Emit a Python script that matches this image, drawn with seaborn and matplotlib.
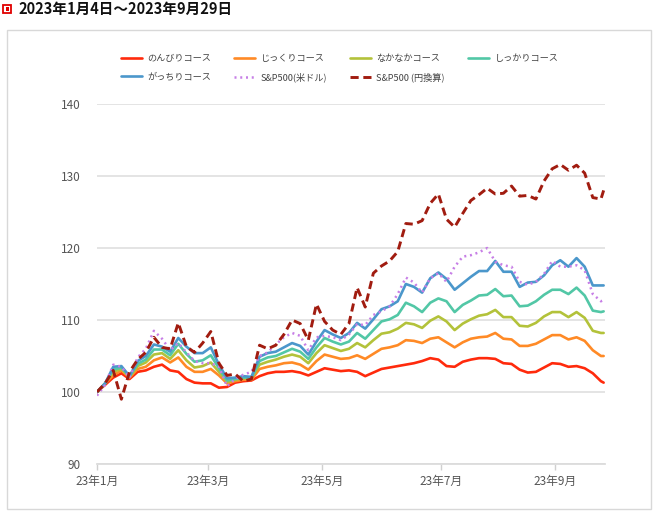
import matplotlib
matplotlib.use("Agg")
import matplotlib.pyplot as plt
import matplotlib.patches as patches
import seaborn as sns
import pandas as pd

# trading-day index (every 3rd day from 2023-01-04 to 2023-09-29)
day = list(range(0, 187, 3)) + [187]

nonbiri = [100.0, 101.0, 102.0, 102.6, 101.8, 102.8, 103.0, 103.5, 103.8, 103.0,
           102.8, 101.8, 101.3, 101.2, 101.2, 100.6, 100.7, 101.3, 101.5, 101.6,
           102.2, 102.6, 102.8, 102.8, 102.9, 102.7, 102.3, 102.8, 103.3, 103.1,
           102.9, 103.0, 102.8, 102.2, 102.7, 103.2, 103.4, 103.6, 103.8, 104.0,
           104.3, 104.7, 104.5, 103.6, 103.5, 104.2, 104.5, 104.7, 104.7, 104.6,
           104.0, 103.9, 103.1, 102.7, 102.8, 103.4, 104.0, 103.9, 103.5, 103.6,
           103.3, 102.6, 101.5, 101.3]
jikkuri = [100.0, 101.2, 102.3, 103.0, 102.0, 103.2, 103.5, 104.4, 104.8, 104.1,
           104.8, 103.5, 102.8, 102.8, 103.2, 102.3, 101.2, 101.5, 101.7, 101.7,
           103.2, 103.5, 103.7, 104.0, 104.1, 103.8, 103.1, 104.3, 105.2, 104.9,
           104.6, 104.7, 105.1, 104.6, 105.3, 106.0, 106.2, 106.5, 107.2, 107.1,
           106.8, 107.4, 107.6, 106.9, 106.2, 106.9, 107.4, 107.6, 107.7, 108.2,
           107.4, 107.3, 106.4, 106.4, 106.7, 107.3, 107.9, 107.9, 107.3, 107.6,
           107.1, 105.8, 105.0, 105.0]
nakanaka = [100.0, 101.2, 102.8, 103.2, 102.1, 103.6, 104.1, 105.2, 105.4, 104.6,
            105.8, 104.4, 103.4, 103.6, 104.1, 102.8, 101.4, 101.7, 101.9, 101.9,
            103.8, 104.2, 104.5, 104.9, 105.2, 104.9, 104.0, 105.4, 106.5, 106.1,
            105.7, 106.0, 106.8, 106.2, 107.2, 108.1, 108.3, 108.8, 109.6, 109.4,
            108.9, 109.9, 110.5, 109.8, 108.6, 109.5, 110.1, 110.6, 110.8, 111.4,
            110.4, 110.4, 109.2, 109.1, 109.6, 110.5, 111.1, 111.1, 110.4, 111.1,
            110.3, 108.5, 108.2, 108.2]
shikkari = [100.0, 101.2, 103.1, 103.4, 102.2, 103.9, 104.5, 105.9, 105.9, 105.1,
            106.7, 105.3, 104.2, 104.4, 105.1, 103.3, 101.6, 101.8, 102.0, 102.0,
            104.3, 104.8, 105.0, 105.5, 106.0, 105.6, 104.6, 106.2, 107.5, 107.0,
            106.6, 107.0, 108.2, 107.4, 108.6, 109.8, 110.1, 110.7, 112.4, 111.9,
            111.1, 112.4, 113.0, 112.6, 111.1, 112.1, 112.7, 113.4, 113.5, 114.3,
            113.3, 113.4, 111.9, 112.0, 112.6, 113.5, 114.2, 114.2, 113.6, 114.5,
            113.4, 111.3, 111.1, 111.2]
gacchiri = [100.0, 101.2, 103.5, 103.6, 102.2, 104.3, 105.0, 106.6, 106.3, 105.6,
            107.5, 106.3, 105.4, 105.4, 106.2, 103.8, 101.9, 102.0, 102.2, 102.1,
            104.9, 105.4, 105.6, 106.2, 106.8, 106.4, 105.2, 107.0, 108.6, 108.0,
            107.5, 108.2, 109.6, 108.8, 110.1, 111.5, 111.9, 112.6, 115.0, 114.6,
            113.8, 115.8, 116.6, 115.7, 114.2, 115.1, 116.0, 116.8, 116.8, 118.2,
            116.7, 116.7, 114.6, 115.2, 115.3, 116.2, 117.6, 118.3, 117.4, 118.6,
            117.4, 114.8, 114.8, 114.8]
sp_usd = [99.5, 101.0, 103.8, 103.5, 102.0, 104.8, 106.0, 108.5, 107.4, 105.8,
          106.8, 105.5, 104.3, 104.0, 104.0, 103.5, 100.8, 101.8, 102.4, 102.8,
          105.0, 105.5, 106.6, 107.6, 108.2, 107.8, 105.8, 107.6, 107.8, 107.6,
          107.2, 108.0, 109.4, 109.3, 110.7, 111.2, 111.9, 113.6, 115.9, 115.2,
          113.8, 115.8, 116.5, 115.3, 117.4, 118.8, 119.0, 119.4, 120.0, 118.1,
          117.6, 117.4, 115.3, 114.9, 115.3, 116.4, 118.2, 117.4, 117.4, 117.6,
          116.9, 113.6, 112.6, 112.8]
sp_jpy = [100.0, 101.2, 103.0, 99.0, 102.8, 104.5, 105.5, 107.6, 106.2, 106.0,
          109.6, 106.3, 105.5, 106.8, 108.4, 104.0, 102.3, 102.5, 101.5, 101.8,
          106.5, 106.0, 106.5, 108.0, 110.0, 109.5, 107.2, 112.2, 109.8, 108.6,
          108.0, 109.5, 114.5, 111.8, 116.5, 117.5, 118.2, 119.5, 123.4, 123.3,
          123.8, 126.2, 127.5, 124.0, 122.9, 124.8, 126.6, 127.4, 128.3, 127.5,
          127.6, 128.6, 127.2, 127.3, 126.8, 129.3, 131.0, 131.6, 130.8, 131.5,
          130.4, 127.0, 126.8, 128.0]

names = ['のんびりコース', 'じっくりコース', 'なかなかコース', 'しっかりコース',
         'がっちりコース', 'S&P500(米ドル)', 'S&P500 (円換算)']
series = [nonbiri, jikkuri, nakanaka, shikkari, gacchiri, sp_usd, sp_jpy]
colors = ['#ff2a0c', '#ff8a26', '#b3c23a', '#52c7a6', '#4b97cb', '#c77fe6', '#a11c10']

tick_pos = [0, 41, 83, 127, 169]
tick_labels = ['23年1月', '23年3月', '23年5月', '23年7月', '23年9月']

df = pd.DataFrame({'day': day})
for n, s in zip(names, series):
    df[n] = s

sns.set_theme(style="white")
plt.rcParams['font.family'] = ['Noto Sans CJK JP', 'DejaVu Sans']

W, H = 653, 511
fig = plt.figure(figsize=(W / 100, H / 100), dpi=100)
ax = fig.add_axes([97 / W, 1 - 464 / H, 508 / W, 360 / H])

for i, n in enumerate(names):
    if i == 6:
        ls, lw = (0, (2.8, 1.6)), 2.1
    elif i == 5:
        ls, lw = (0, (0.8, 1.5)), 1.8
    else:
        ls, lw = '-', 1.9
    sns.lineplot(data=df, x='day', y=n, color=colors[i], lw=lw, linestyle=ls,
                 label=n, errorbar=None, ax=ax)

ax.set_xlim(0, 187.5)
ax.set_ylim(90, 140)
ax.set_yticks([90, 100, 110, 120, 130, 140])
ax.set_xticks(tick_pos)
ax.set_xticklabels(tick_labels)
ax.set_xlabel('')
ax.set_ylabel('')
ax.grid(axis='y', color='#e2e2e2', lw=1.3)
ax.grid(axis='x', visible=False)
for sp in ['top', 'right', 'left']:
    ax.spines[sp].set_visible(False)
ax.spines['bottom'].set_color('#dcdcdc')
ax.spines['bottom'].set_linewidth(1.3)
ax.tick_params(axis='y', length=0, pad=12, labelsize=8.5, labelcolor='#555555')
ax.tick_params(axis='x', length=4, width=1, color='#d0d0d0', direction='out',
               pad=4, labelsize=8.5, labelcolor='#555555', bottom=True)

# legend in row order (matplotlib fills columns first)
h, l = ax.get_legend_handles_labels()
order = [0, 4, 1, 5, 2, 6, 3]
ax.legend([h[i] for i in order], [l[i] for i in order], ncol=4,
          loc='upper left', bbox_to_anchor=(121 / W, 1 - 54 / H),
          bbox_transform=fig.transFigure, frameon=False, fontsize=6.6,
          handlelength=2.3, handletextpad=0.55, columnspacing=2.55,
          labelspacing=1.0, borderpad=0, borderaxespad=0, labelcolor='#444444')

# title with icon
fig.text(18 / W, 1 - 9 / H, '2023年1月4日～2023年9月29日', fontsize=10.5,
         fontweight='bold', va='center', ha='left', color='#111111')
fig.add_artist(patches.Rectangle((3 / W, 1 - 13.5 / H), 8 / W, 8.5 / H,
                                 transform=fig.transFigure, facecolor='white',
                                 edgecolor='#e00000', lw=1.3))
fig.add_artist(patches.Rectangle((5.5 / W, 1 - 11 / H), 3 / W, 3.5 / H,
                                 transform=fig.transFigure, facecolor='#e00000',
                                 edgecolor='none'))

# outer frame
fig.add_artist(patches.Rectangle((7 / W, 1 - 509 / H), 644 / W, 479 / H,
                                 transform=fig.transFigure, fill=False,
                                 edgecolor='#d8d8d8', lw=1))

fig.savefig('out.png', dpi=100)
